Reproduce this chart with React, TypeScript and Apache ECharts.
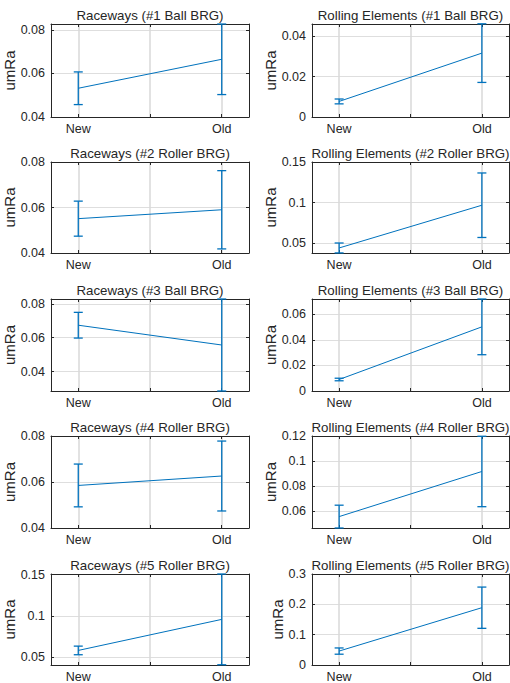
import React, { useEffect, useRef } from "react";
import * as echarts from "echarts";

// ---------- data ----------
const categories = ["New", "Old"];
const categoryX = [1, 2];

const raceTitles = [
  "Raceways (#1 Ball BRG)",
  "Raceways (#2 Roller BRG)",
  "Raceways (#3 Ball BRG)",
  "Raceways (#4 Roller BRG)",
  "Raceways (#5 Roller BRG)",
];
const rollTitles = [
  "Rolling Elements (#1 Ball BRG)",
  "Rolling Elements (#2 Roller BRG)",
  "Rolling Elements (#3 Ball BRG)",
  "Rolling Elements (#4 Roller BRG)",
  "Rolling Elements (#5 Roller BRG)",
];

// Raceways: mean and standard deviation (New, Old)
const raceMeanNew = [0.0532, 0.0551, 0.0674, 0.0585, 0.0584];
const raceMeanOld = [0.0665, 0.059, 0.0557, 0.0626, 0.0959];
const raceStdNew = [0.0075, 0.0077, 0.0076, 0.0093, 0.0052];
const raceStdOld = [0.0162, 0.0172, 0.0272, 0.0152, 0.0548];

// Rolling elements: mean and standard deviation (New, Old)
const rollMeanNew = [0.0077, 0.0442, 0.009, 0.0557, 0.0459];
const rollMeanOld = [0.0316, 0.0968, 0.0502, 0.0917, 0.1889];
const rollStdNew = [0.0012, 0.0061, 0.001, 0.0091, 0.0103];
const rollStdOld = [0.0145, 0.0397, 0.0218, 0.0281, 0.068];

// y-axis limits and tick steps
const raceYMin = [0.04, 0.04, 0.0285, 0.04, 0.0408];
const raceYMax = [0.0827, 0.08, 0.0829, 0.08, 0.1507];
const raceYStep = [0.02, 0.02, 0.02, 0.02, 0.05];
const rollYMin = [0, 0.038, 0, 0.0466, 0];
const rollYMax = [0.046, 0.15, 0.072, 0.12, 0.3];
const rollYStep = [0.02, 0.05, 0.02, 0.02, 0.1];

const yLabel = "umRa";

// ---------- layout ----------
const rowTop = [24, 162, 299, 436, 574];
const rowHeight = [93, 91, 92, 92, 91];
const colLeft = [51, 312];
const colWidth = [198, 197];
const nameGaps = [
  [28, 28, 28, 28, 28],
  [25, 25, 25, 25, 21],
];
const X_MIN = 0.81;
const X_MAX = 2.19;

const BLUE = "#0072BD";
const AXIS = "#262626";
const FONT = '"Liberation Sans", Arial, Helvetica, sans-serif';

function fmtNum(v: number, step: number) {
  const k = v / step;
  if (Math.abs(k - Math.round(k)) > 1e-6) return "";
  return String(parseFloat(v.toFixed(4)));
}

function buildOption() {
  const grid: any[] = [];
  const xAxis: any[] = [];
  const yAxis: any[] = [];
  const series: any[] = [];
  const graphic: any[] = [];

  let gi = 0;
  for (let r = 0; r < 5; r++) {
    for (let c = 0; c < 2; c++) {
      const isRace = c === 0;
      const title = isRace ? raceTitles[r] : rollTitles[r];
      const mNew = isRace ? raceMeanNew[r] : rollMeanNew[r];
      const mOld = isRace ? raceMeanOld[r] : rollMeanOld[r];
      const sNew = isRace ? raceStdNew[r] : rollStdNew[r];
      const sOld = isRace ? raceStdOld[r] : rollStdOld[r];
      const yMin = isRace ? raceYMin[r] : rollYMin[r];
      const yMax = isRace ? raceYMax[r] : rollYMax[r];
      const yStep = isRace ? raceYStep[r] : rollYStep[r];
      const means = [mNew, mOld];
      const stds = [sNew, sOld];

      grid.push({
        left: colLeft[c],
        top: rowTop[r],
        width: colWidth[c],
        height: rowHeight[r],
        containLabel: false,
        outerBoundsMode: "none",
      });

      const commonX = {
        type: "value",
        gridIndex: gi,
        min: X_MIN,
        max: X_MAX,
        splitNumber: 3,
        minInterval: 0.5,
        maxInterval: 0.5,
        axisLine: { show: true, onZero: false, lineStyle: { color: AXIS, width: 1 } },
        axisTick: {
          show: true,
          inside: true,
          length: 3,
          lineStyle: { color: AXIS, width: 1 },
        },
      };
      xAxis.push({
        ...commonX,
        position: "bottom",
        axisLabel: {
          show: true,
          margin: 5,
          color: AXIS,
          fontSize: 12.5,
          fontFamily: FONT,
          showMinLabel: false,
          showMaxLabel: false,
          formatter: (v: number) => {
            for (let i = 0; i < categoryX.length; i++) {
              if (Math.abs(v - categoryX[i]) < 1e-6) return categories[i];
            }
            return "";
          },
        },
        splitLine: {
          show: true,
          showMinLine: false,
          showMaxLine: false,
          lineStyle: { color: "#d9d9d9", width: 1.5 },
        },
      });
      xAxis.push({
        ...commonX,
        position: "top",
        axisLabel: { show: false },
        splitLine: { show: false },
      });

      const commonY = {
        type: "value",
        gridIndex: gi,
        min: yMin,
        max: yMax,
        splitNumber: 3,
        minInterval: yStep,
        maxInterval: yStep,
        axisLine: { show: true, onZero: false, lineStyle: { color: AXIS, width: 1 } },
        axisTick: {
          show: true,
          inside: true,
          length: 3,
          lineStyle: { color: AXIS, width: 1 },
        },
      };
      yAxis.push({
        ...commonY,
        position: "left",
        name: yLabel,
        nameLocation: "middle",
        nameGap: nameGaps[c][r],
        nameTextStyle: { color: AXIS, fontSize: 15, fontFamily: FONT, fontWeight: "normal" },
        axisLabel: {
          show: true,
          margin: 6,
          color: AXIS,
          fontSize: 12.5,
          fontFamily: FONT,
          formatter: (v: number) => fmtNum(v, yStep),
        },
        splitLine: {
          show: true,
          showMinLine: false,
          showMaxLine: false,
          lineStyle: { color: "#dedede", width: 1 },
        },
      });
      yAxis.push({
        ...commonY,
        position: "right",
        axisLabel: { show: false },
        splitLine: { show: false },
      });

      const xi = gi * 2;
      series.push({
        type: "line",
        xAxisIndex: xi,
        yAxisIndex: xi,
        data: categoryX.map((x, i) => [x, means[i]]),
        symbol: "none",
        silent: true,
        lineStyle: { color: BLUE, width: 1 },
        z: 3,
      });
      series.push({
        type: "custom",
        xAxisIndex: xi,
        yAxisIndex: xi,
        silent: true,
        z: 4,
        data: categoryX.map((x, i) => [x, means[i] - stds[i], means[i] + stds[i]]),
        encode: { x: 0, y: [1, 2] },
        renderItem: (params: any, api: any) => {
          const x = api.value(0);
          const lo = api.value(1);
          const hi = api.value(2);
          const pT = api.coord([x, hi]);
          const pB = api.coord([x, lo]);
          const w = 4.5;
          const st = { stroke: BLUE, lineWidth: 1.3 };
          return {
            type: "group",
            children: [
              { type: "line", shape: { x1: pT[0], y1: pT[1], x2: pB[0], y2: pB[1] }, style: st },
              { type: "line", shape: { x1: pT[0] - w, y1: pT[1], x2: pT[0] + w, y2: pT[1] }, style: st },
              { type: "line", shape: { x1: pB[0] - w, y1: pB[1], x2: pB[0] + w, y2: pB[1] }, style: st },
            ],
          };
        },
      });

      graphic.push({
        type: "text",
        x: colLeft[c] + colWidth[c] / 2,
        y: rowTop[r] - 9,
        silent: true,
        style: {
          text: title,
          align: "center",
          verticalAlign: "middle",
          fill: "#262626",
          fontSize: 13.3,
          fontFamily: FONT,
          fontWeight: "normal",
        },
      });

      gi++;
    }
  }

  return {
    animation: false,
    backgroundColor: "#ffffff",
    grid,
    xAxis,
    yAxis,
    series,
    graphic,
  };
}

export default function App() {
  const ref = useRef<HTMLDivElement>(null);
  useEffect(() => {
    if (!ref.current) return;
    const chart = echarts.init(ref.current, null, { renderer: "svg" });
    chart.setOption(buildOption() as any);
    return () => chart.dispose();
  }, []);
  return (
    <div
      ref={ref}
      style={{ position: "absolute", left: 0, top: 0, width: 510, height: 683 }}
    />
  );
}
